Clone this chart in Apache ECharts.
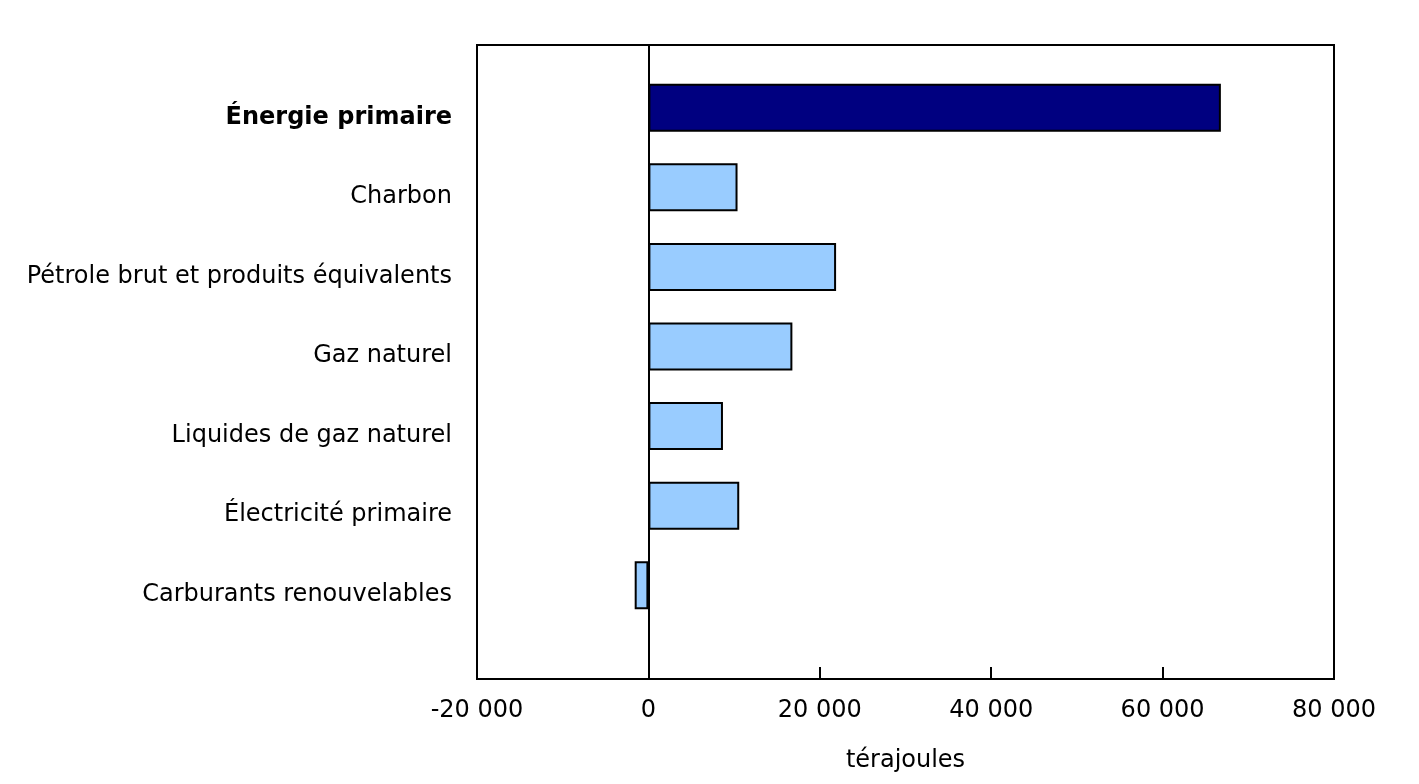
<!DOCTYPE html>
<html>
<head>
<meta charset="utf-8">
<script src="https://cdn.jsdelivr.net/npm/echarts@6/dist/echarts.min.js"></script>
<style>
html,body{margin:0;padding:0;background:#fff;}
#chart{width:1419px;height:784px;}
</style>
</head>
<body>
<div id="chart"></div>
<script>
const categories = ['Énergie primaire','Charbon','Pétrole brut et produits équivalents','Gaz naturel','Liquides de gaz naturel','Électricité primaire','Carburants renouvelables'];
const values = [66800, 10400, 21900, 16800, 8700, 10600, -1600];
const tickMin = -20000, tickMax = 80000, tickStep = 20000;
const axisTitle = 'térajoules';

const FONT = 'DejaVu Sans, Verdana, sans-serif';
const fmt = v => String(v).replace(/\B(?=(\d{3})+(?!\d))/g, ' ');
const labelStyle = {color: '#000', fontFamily: FONT, fontSize: 24, verticalAlign: 'top', lineHeight: 19};

const chart = echarts.init(document.getElementById('chart'));
chart.setOption({
  animation: false,
  backgroundColor: '#fff',
  grid: [
    {left: 477, right: 85, top: 45, bottom: 105, show: true, borderColor: '#000', borderWidth: 2, backgroundColor: 'transparent', containLabel: false},
    {left: 477, right: 85, top: 68, bottom: 159, containLabel: false}
  ],
  xAxis: [
    {gridIndex: 0, type: 'value', min: tickMin, max: tickMax, interval: tickStep,
     axisLine: {show: true, lineStyle: {color: '#000', width: 2}},
     axisTick: {show: true, inside: true, length: 12, lineStyle: {color: '#000', width: 2}},
     splitLine: {show: false},
     axisLabel: {color: '#000', fontFamily: FONT, fontSize: 24, margin: 20, formatter: fmt},
     name: axisTitle, nameLocation: 'middle', nameGap: 70,
     nameTextStyle: {color: '#000', fontFamily: FONT, fontSize: 24}},
    {gridIndex: 1, type: 'value', min: tickMin, max: tickMax, interval: tickStep, show: false}
  ],
  yAxis: [
    {gridIndex: 0, type: 'value', min: 0, max: 1,
     axisLine: {show: true, onZero: true, lineStyle: {color: '#000', width: 2}},
     axisTick: {show: false}, axisLabel: {show: false}, splitLine: {show: false}},
    {gridIndex: 1, type: 'category', inverse: true,
     data: categories.map((c, i) => i === 0 ? {value: c, textStyle: Object.assign({}, labelStyle, {fontWeight: 'bold'})} : c),
     axisLine: {show: false}, axisTick: {show: false},
     axisLabel: Object.assign({margin: 25}, labelStyle)}
  ],
  series: [{
    type: 'bar', xAxisIndex: 1, yAxisIndex: 1, barWidth: 48,
    data: values.map((v, i) => ({value: v, itemStyle: {color: i === 0 ? '#000080' : '#99ccff'}})),
    itemStyle: {borderColor: '#000', borderWidth: 2},
    silent: true
  }]
});
</script>
</body>
</html>
